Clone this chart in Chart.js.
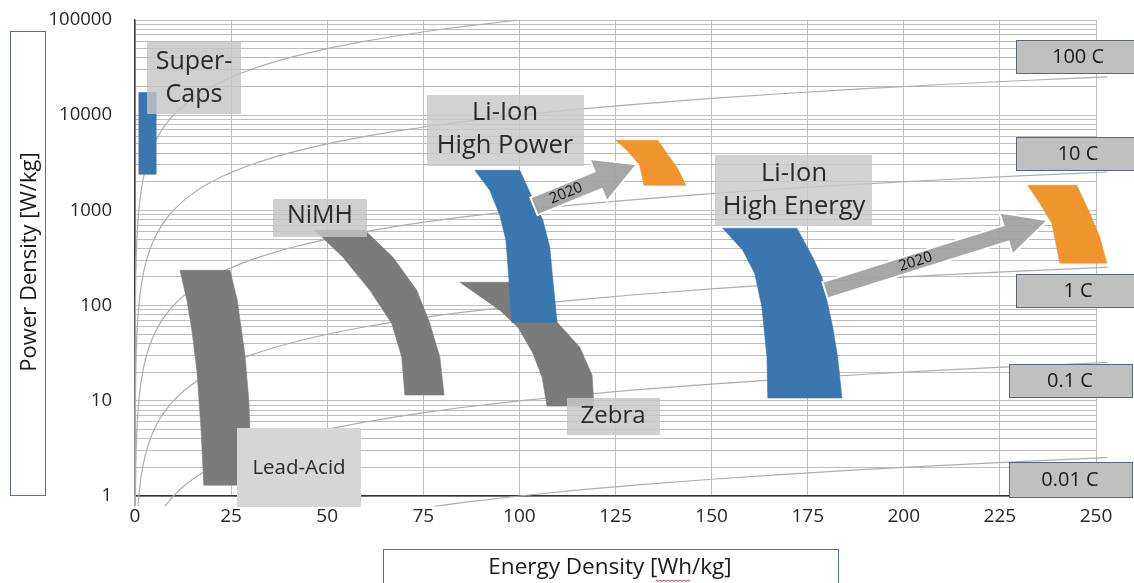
<!DOCTYPE html>
<html>
<head>
<meta charset="utf-8">
<script src="https://cdn.jsdelivr.net/npm/chart.js@4.4.1/dist/chart.umd.min.js"></script>
<style>
  html, body { margin: 0; padding: 0; background: #ffffff; }
  canvas { display: block; }
</style>
</head>
<body>
<canvas id="c" width="1134" height="583"></canvas>
<script>
// ---------- DATA ----------
const xTicks = [0, 25, 50, 75, 100, 125, 150, 175, 200, 225, 250];
const yTickLabels = ['1', '10', '100', '1000', '10000', '100000'];
const cRates = [1000, 100, 10, 1, 0.1, 0.01];
const cRateLabels = ['100 C', '10 C', '1 C', '0.1 C', '0.01 C'];
const energySamples = [0.0008, 0.002, 0.005, 0.008, 0.02, 0.05, 0.08, 0.2, 0.5, 0.8, 1.2, 1.6, 2, 2.5, 3, 4, 5, 6, 7, 8, 10, 12, 15, 18, 22, 26, 30, 35, 40, 50, 60, 70, 78, 85, 100, 115, 130, 150, 170, 190, 210, 230, 253];
const lineStartPower = 0.78;

const superCapsE = [1.0, 5.5, 5.5, 1.0];
const superCapsP = [17300, 17300, 2400, 2400];

const leadAcidE = [11.7, 24.7, 26.6, 28.6, 29.6, 29.9, 29.9, 17.9, 17.2, 16.1, 14.8, 13.5];
const leadAcidP = [235, 235, 114, 30, 10.2, 4.9, 1.3, 1.3, 4.9, 21, 55, 114];

const nimhE = [46.8, 59.8, 67.1, 73.3, 76.7, 79.3, 80.4, 70.2, 69.4, 66.8, 61.1, 54.1];
const nimhP = [618, 618, 322, 145, 65, 28.7, 11.5, 11.5, 28.7, 65, 145, 322];

const zebraE = [84.5, 106.6, 109.8, 115.7, 118.9, 119.4, 107.2, 105.9, 103.5, 99.6, 94.9];
const zebraP = [176, 176, 67, 36.6, 18.6, 8.8, 8.8, 17.7, 31.7, 59.4, 89.5];

const liHighPowerE = [88.4, 100.1, 102.7, 106.1, 107.9, 108.7, 109.8, 98.0, 97.3, 96.5, 94.9, 92.3];
const liHighPowerP = [2636, 2636, 1549, 787, 410, 185, 67, 67, 185, 486, 889, 1625];

const liHighEnergyE = [152.9, 172.2, 176.3, 178.7, 180.0, 181.5, 182.8, 183.9, 164.6, 164.4, 163.1, 161.2, 158.1];
const liHighEnergyP = [649, 649, 322, 199, 114, 59.4, 28.7, 10.7, 10.7, 28.7, 96, 219, 381];

const hp2020E = [125.1, 136.0, 139.1, 141.0, 143.3, 132.4, 131.3, 128.0];
const hp2020P = [5443, 5443, 3607, 2832, 1834, 1834, 2972, 4274];

const he2020E = [232.2, 245.0, 248.4, 251.0, 252.8, 240.6, 238.5, 235.4];
const he2020P = [1834, 1834, 933, 522, 279, 279, 732, 1187];

// arrows: [tailE, tailP, tipE, tipP]
const arrowHighPower = [103.8, 1104, 130.6, 3047];
const arrowHighEnergy = [179.5, 145, 237.5, 787];
const arrowLabel = '2020';

// ---------- STYLE / BUILD ----------
const FONT = "'Open Sans', 'Noto Sans', 'DejaVu Sans', sans-serif";
const BLUE = '#3a76b0', ORANGE = '#f0952e', GREY = '#7b7b7b';

function poly(E, P) {
  return E.map((e, i) => ({ x: e, y: P[i] }));
}
function shapeDs(E, P, color, order) {
  return {
    data: poly(E, P), showLine: false, polyColor: color,
    pointRadius: 0, pointHoverRadius: 0, order: order, clip: false
  };
}
const datasets = [];
cRates.forEach(c => {
  const startE = lineStartPower / c;
  const pts = [{ x: startE, y: lineStartPower }];
  energySamples.forEach(e => { if (e > startE && c * e <= 300000) pts.push({ x: e, y: c * e }); });
  datasets.push({
    data: pts, showLine: true, fill: false, tension: 0.3, cubicInterpolationMode: 'monotone',
    borderColor: '#adadad', borderWidth: 1.2, pointRadius: 0, order: 10,
    clip: { left: 2, top: 0, right: 12, bottom: 12 }
  });
});
datasets.push(shapeDs(superCapsE, superCapsP, BLUE, 2));
datasets.push(shapeDs(leadAcidE, leadAcidP, GREY, 2));
datasets.push(shapeDs(nimhE, nimhP, GREY, 2));
datasets.push(shapeDs(zebraE, zebraP, GREY, 2));
datasets.push(shapeDs(liHighPowerE, liHighPowerP, BLUE, 1));
datasets.push(shapeDs(liHighEnergyE, liHighEnergyP, BLUE, 2));
datasets.push(shapeDs(hp2020E, hp2020P, ORANGE, 2));
datasets.push(shapeDs(he2020E, he2020P, ORANGE, 2));

// text boxes (pixel layout)
const labelBoxes = [
  { x: 147, y: 42, w: 94, h: 72, fill: 'rgba(196,196,196,0.82)', lines: ['Super-', 'Caps'], cx: 194, ys: [62, 95], size: 25 },
  { x: 273, y: 199, w: 94, h: 38, fill: 'rgba(196,196,196,0.82)', lines: ['NiMH'], cx: 320, ys: [216], size: 25 },
  { x: 427, y: 95, w: 157, h: 71, fill: 'rgba(200,200,200,0.82)', lines: ['Li-Ion', 'High Power'], cx: 505, ys: [113, 146], size: 25.5 },
  { x: 715, y: 155, w: 157, h: 71, fill: 'rgba(200,200,200,0.82)', lines: ['Li-Ion', 'High Energy'], cx: 794, ys: [174, 207], size: 25.5 },
  { x: 567, y: 398, w: 93, h: 37, fill: 'rgba(200,200,200,0.85)', lines: ['Zebra'], cx: 613, ys: [416], size: 24 },
  { x: 237, y: 428, w: 124, h: 79, fill: '#d6d6d6', lines: ['Lead-Acid'], cx: 299, ys: [468], size: 20.5 }
];
const cBoxes = [
  { x: 1016, y: 40, w: 130, h: 33, cx: 1078, cy: 57 },
  { x: 1016, y: 137, w: 130, h: 33, cx: 1078, cy: 154 },
  { x: 1016, y: 274, w: 130, h: 33, cx: 1078, cy: 291 },
  { x: 1009, y: 364, w: 123, h: 33, cx: 1070, cy: 381 },
  { x: 1009, y: 462, w: 123, h: 35, cx: 1070, cy: 480 }
];

function drawArrow(ctx, x0, y0, x1, y1, sw, hw, hl, textFrac) {
  const dx = x1 - x0, dy = y1 - y0, L = Math.hypot(dx, dy);
  const ux = dx / L, uy = dy / L, nx = -uy, ny = ux;
  const bx = x1 - ux * hl, by = y1 - uy * hl;
  ctx.save();
  ctx.beginPath();
  ctx.moveTo(x0 + nx * sw / 2, y0 + ny * sw / 2);
  ctx.lineTo(bx + nx * sw / 2, by + ny * sw / 2);
  ctx.lineTo(bx + nx * hw / 2, by + ny * hw / 2);
  ctx.lineTo(x1, y1);
  ctx.lineTo(bx - nx * hw / 2, by - ny * hw / 2);
  ctx.lineTo(bx - nx * sw / 2, by - ny * sw / 2);
  ctx.lineTo(x0 - nx * sw / 2, y0 - ny * sw / 2);
  ctx.closePath();
  ctx.fillStyle = 'rgba(160,160,160,0.93)';
  ctx.fill();
  ctx.strokeStyle = '#ffffff';
  ctx.lineWidth = 2;
  ctx.stroke();
  const sl = L - hl;
  const tx = x0 + ux * sl * textFrac, ty = y0 + uy * sl * textFrac;
  ctx.translate(tx, ty);
  ctx.rotate(Math.atan2(dy, dx));
  ctx.fillStyle = '#111';
  ctx.font = '15px ' + FONT;
  ctx.textAlign = 'center';
  ctx.textBaseline = 'middle';
  ctx.fillText(arrowLabel, 0, 0);
  ctx.restore();
}

// fills each region dataset as a polygon through the points the library placed
const polyFill = {
  id: 'polyFill',
  afterDatasetDraw(chart, args) {
    const ds = chart.data.datasets[args.index];
    if (!ds.polyColor) return;
    const pts = args.meta.data;
    const ctx = chart.ctx;
    ctx.save();
    ctx.beginPath();
    pts.forEach((p, i) => { if (i === 0) ctx.moveTo(p.x, p.y); else ctx.lineTo(p.x, p.y); });
    ctx.closePath();
    ctx.fillStyle = ds.polyColor;
    ctx.fill();
    ctx.strokeStyle = ds.polyColor;
    ctx.lineWidth = 0.6;
    ctx.stroke();
    ctx.restore();
  }
};

const annot = {
  id: 'annot',
  afterDatasetsDraw(chart) {
    const ctx = chart.ctx, xs = chart.scales.x, ys = chart.scales.y;
    const px = e => xs.getPixelForValue(e), py = p => ys.getPixelForValue(p);
    drawArrow(ctx, px(arrowHighPower[0]), py(arrowHighPower[1]), px(arrowHighPower[2]), py(arrowHighPower[3]), 19, 46, 42, 0.5);
    drawArrow(ctx, px(arrowHighEnergy[0]), py(arrowHighEnergy[1]), px(arrowHighEnergy[2]), py(arrowHighEnergy[3]), 17, 44, 44, 0.5);
    ctx.save();
    labelBoxes.forEach(b => {
      ctx.fillStyle = b.fill;
      ctx.fillRect(b.x, b.y, b.w, b.h);
      ctx.fillStyle = '#2a2a2a';
      ctx.font = b.size + 'px ' + FONT;
      ctx.textAlign = 'center';
      ctx.textBaseline = 'middle';
      b.lines.forEach((t, i) => ctx.fillText(t, b.cx, b.ys[i]));
    });
    cBoxes.forEach((b, i) => {
      ctx.fillStyle = '#c0c0c0';
      ctx.fillRect(b.x, b.y, b.w, b.h);
      ctx.strokeStyle = '#56667f';
      ctx.lineWidth = 1;
      ctx.strokeRect(b.x + 0.5, b.y + 0.5, b.w, b.h);
      ctx.fillStyle = '#1a1a1a';
      ctx.font = '20px ' + FONT;
      ctx.textAlign = 'center';
      ctx.textBaseline = 'middle';
      ctx.fillText(cRateLabels[i], b.cx, b.cy);
    });
    ctx.restore();
  },
  afterDraw(chart) {
    const ctx = chart.ctx;
    ctx.save();
    ctx.fillStyle = '#fff';
    ctx.strokeStyle = '#4f6f9f';
    ctx.lineWidth = 1;
    ctx.fillRect(10, 31, 35, 464);
    ctx.strokeRect(10.5, 31.5, 35, 464);
    ctx.translate(30, 262);
    ctx.rotate(-Math.PI / 2);
    ctx.fillStyle = '#1a1a1a';
    ctx.font = '22px ' + FONT;
    ctx.textAlign = 'center';
    ctx.textBaseline = 'middle';
    ctx.fillText('Power Density [W/kg]', 0, 0);
    ctx.restore();
    ctx.save();
    ctx.fillStyle = '#fff';
    ctx.strokeStyle = '#4f6f9f';
    ctx.fillRect(383, 549, 455, 40);
    ctx.strokeRect(383.5, 549.5, 455, 40);
    ctx.fillStyle = '#1a1a1a';
    ctx.font = '22.5px ' + FONT;
    ctx.textAlign = 'center';
    ctx.textBaseline = 'middle';
    ctx.fillText('Energy Density [Wh/kg]', 610, 568);
    ctx.strokeStyle = '#e03030';
    ctx.lineWidth = 1;
    ctx.beginPath();
    for (let x = 656, k = 0; x <= 690; x += 2, k++) {
      const y = 580 + (k % 2 ? 1.5 : 0);
      if (x === 656) ctx.moveTo(x, y); else ctx.lineTo(x, y);
    }
    ctx.stroke();
    ctx.restore();
  }
};

new Chart(document.getElementById('c'), {
  type: 'scatter',
  data: { datasets },
  options: {
    responsive: false,
    animation: false,
    events: [],
    layout: { padding: { top: 20, right: 38, left: 0, bottom: 0 } },
    plugins: { legend: { display: false }, tooltip: { enabled: false } },
    scales: {
      x: {
        type: 'linear', min: xTicks[0], max: xTicks[xTicks.length - 1],
        afterBuildTicks: s => { s.ticks = xTicks.map(v => ({ value: v })); },
        afterFit: s => { s.height = 87; s.paddingLeft = 0; s.paddingRight = 0; },
        ticks: { color: '#262626', font: { family: FONT, size: 19 }, padding: 9, maxRotation: 0, autoSkip: false },
        grid: { color: '#bdbdbd', lineWidth: 1, drawTicks: false },
        border: { color: '#333', width: 1.4 }
      },
      y: {
        type: 'logarithmic', min: 1, max: 100000,
        afterBuildTicks: s => {
          const t = [];
          for (let k = 0; k < yTickLabels.length; k++) {
            const base = Number(yTickLabels[k]);
            if (k === yTickLabels.length - 1) { t.push({ value: base }); break; }
            for (let m = 1; m <= 9; m++) t.push({ value: base * m });
          }
          s.ticks = t;
        },
        afterFit: s => { s.width = 135; s.paddingTop = 0; s.paddingBottom = 0; },
        ticks: {
          color: '#262626', font: { family: FONT, size: 18.5 }, padding: 23, autoSkip: false,
          callback: v => { const s = String(Math.round(v)); return yTickLabels.includes(s) ? s : ''; }
        },
        grid: { color: '#bdbdbd', lineWidth: 1, drawTicks: false },
        border: { color: '#333', width: 1.4 }
      }
    }
  },
  plugins: [polyFill, annot]
});
</script>
</body>
</html>
